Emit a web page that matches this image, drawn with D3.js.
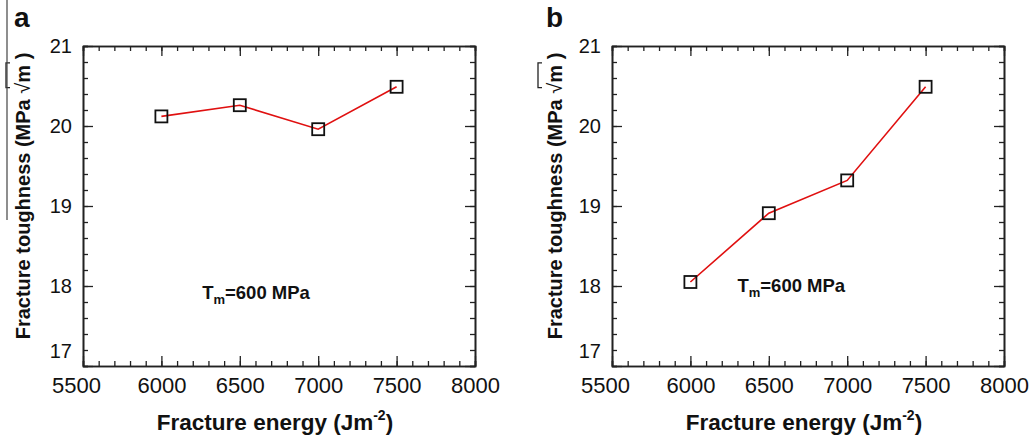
<!DOCTYPE html>
<html>
<head>
<meta charset="utf-8">
<script src="https://cdn.jsdelivr.net/npm/d3@7"></script>
<style>
  body { margin: 0; background: #fff; }
  svg text { font-family: Arial, "Liberation Sans", sans-serif; fill: #111; }
</style>
</head>
<body>
<svg id="chart" width="1035" height="440"></svg>
<script>
// values
var energies = [6000, 6500, 7000, 7500];
var toughnessA = [20.12, 20.26, 19.96, 20.49];
var toughnessB = [18.05, 18.91, 19.32, 20.49];
var xMajorTicks = [5500, 6000, 6500, 7000, 7500, 8000];
var yMajorTicks = [17, 18, 19, 20, 21];
var panelLetters = ["a", "b"];
var annotationPos = [[6260, 17.84], [6300, 17.93]];

var svg = d3.select("#chart");
var plotW = 392, plotH = 320;
var top0 = 46;

function drawPanel(left, letter, values, annot, titleX) {
    var g = svg.append("g").attr("transform", "translate(" + left + "," + top0 + ")");

    var x = d3.scaleLinear().domain([5500, 8000]).range([0, plotW]);
    var y = d3.scaleLinear().domain([17, 21]).range([plotH, 0]);

    var xMinor = d3.range(5500, 8001, 100);
    var yMinor = d3.range(17, 21.001, 0.2);

    // minor ticks on all four sides
    g.append("g").attr("transform", "translate(0," + plotH + ")")
        .call(d3.axisBottom(x).tickValues(xMinor).tickSize(-5).tickFormat(""));
    g.append("g").call(d3.axisTop(x).tickValues(xMinor).tickSize(-5).tickFormat(""));
    g.append("g").call(d3.axisLeft(y).tickValues(yMinor).tickSize(-5).tickFormat(""));
    g.append("g").attr("transform", "translate(" + plotW + ",0)")
        .call(d3.axisRight(y).tickValues(yMinor).tickSize(-5).tickFormat(""));

    // major ticks
    var xb = g.append("g").attr("class", "xaxis").attr("transform", "translate(0," + plotH + ")")
        .call(d3.axisBottom(x).tickValues(xMajorTicks).tickSize(-10).tickSizeOuter(0).tickPadding(11).tickFormat(d3.format("d")));
    g.append("g").call(d3.axisTop(x).tickValues(xMajorTicks).tickSize(-10).tickSizeOuter(0).tickFormat(""));
    var yl = g.append("g").attr("class", "yaxis")
        .call(d3.axisLeft(y).tickValues(yMajorTicks).tickSize(-10).tickSizeOuter(0).tickPadding(11).tickFormat(d3.format("d")));
    g.append("g").attr("transform", "translate(" + plotW + ",0)")
        .call(d3.axisRight(y).tickValues(yMajorTicks).tickSize(-10).tickSizeOuter(0).tickFormat(""));

    g.selectAll(".domain").attr("stroke", "#222").attr("stroke-width", 1.6);
    g.selectAll(".tick line").attr("stroke", "#222").attr("stroke-width", 1.3);

    xb.selectAll("text").style("font-size", "22px").attr("fill", "#111")
        .attr("dx", function (d) { return d === 5500 ? -7 : 0; });
    yl.selectAll("text").style("font-size", "20px").attr("fill", "#111")
        .attr("dy", function (d) { return d === 17 ? "-0.45em" : "0.32em"; });

    // data line + square markers
    var pts = energies.map(function (e, i) { return [e, values[i]]; });
    g.append("path").datum(pts)
        .attr("fill", "none")
        .attr("stroke", "#e01010")
        .attr("stroke-width", 1.6)
        .attr("d", d3.line().x(function (d) { return x(d[0]); }).y(function (d) { return y(d[1]); }));

    g.selectAll(".mk").data(pts).enter().append("rect")
        .attr("class", "mk")
        .attr("x", function (d) { return x(d[0]) - 6; })
        .attr("y", function (d) { return y(d[1]) - 6; })
        .attr("width", 12)
        .attr("height", 12)
        .attr("fill", "none")
        .attr("stroke", "#111")
        .attr("stroke-width", 1.8);

    // T_m annotation
    var t = g.append("text")
        .attr("x", x(annot[0])).attr("y", y(annot[1]))
        .style("font-size", "18.5px").style("font-weight", "bold");
    t.append("tspan").text("T");
    t.append("tspan").attr("dy", 5).style("font-size", "13px").text("m");
    t.append("tspan").attr("dy", -5).text("=600 MPa");

    // x title
    var xt = svg.append("text")
        .attr("x", left + plotW / 2 - 4).attr("y", 430)
        .attr("text-anchor", "middle")
        .style("font-size", "22.5px").style("font-weight", "bold");
    xt.append("tspan").text("Fracture energy (Jm");
    xt.append("tspan").attr("dy", -10).style("font-size", "14px").text("-2");
    xt.append("tspan").attr("dy", 10).text(")");

    // y title, rotated
    var tg = svg.append("g").attr("transform", "translate(" + titleX + ",196) rotate(-90)");
    var yt = tg.append("text")
        .attr("text-anchor", "middle")
        .style("font-size", "20px").style("font-weight", "bold");
    yt.append("tspan").text("Fracture toughness (MPa ");
    yt.append("tspan").style("font-weight", "normal").text("\u221A");
    yt.append("tspan").text("m");
    yt.append("tspan").text(" )");

    // vinculum over m
    var full = yt.node();
    var n0 = "Fracture toughness (MPa ".length;
    var s0 = full.getStartPositionOfChar(n0).x;
    var e0 = full.getEndPositionOfChar(n0 + 1).x;
    tg.append("path")
        .attr("d", "M" + (s0 + 6) + ",-20 V-24 H" + (e0 + 2) + " V-20")
        .attr("fill", "none").attr("stroke", "#222").attr("stroke-width", 1.3);

    // panel letter
    svg.append("text")
        .attr("x", titleX - 16).attr("y", 27)
        .style("font-size", "28px").style("font-weight", "bold")
        .text(letter);
}

drawPanel(83, panelLetters[0], toughnessA, annotationPos[0], 30);
drawPanel(612, panelLetters[1], toughnessB, annotationPos[1], 562);

// stray rule at the very left edge of the original figure
svg.append("line")
    .attr("x1", 7).attr("x2", 7).attr("y1", 0).attr("y2", 220)
    .attr("stroke", "#444").attr("stroke-width", 1.2);
</script>
</body>
</html>
